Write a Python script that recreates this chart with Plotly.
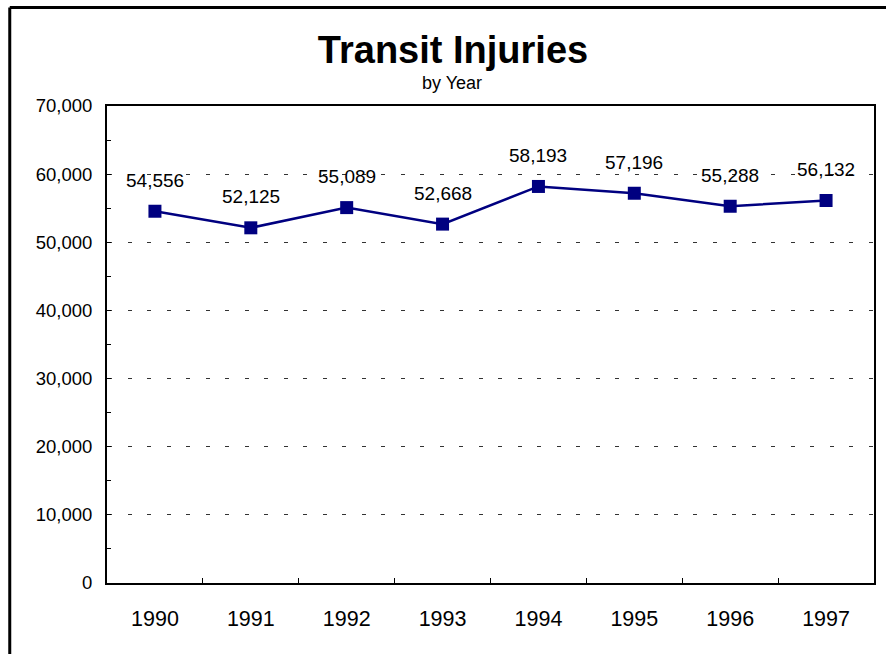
import plotly.graph_objects as go

years = ["1990", "1991", "1992", "1993", "1994", "1995", "1996", "1997"]
injuries = [54556, 52125, 55089, 52668, 58193, 57196, 55288, 56132]
y_ticks = [0, 10000, 20000, 30000, 40000, 50000, 60000, 70000]
y_tick_labels = ["0", "10,000", "20,000", "30,000", "40,000", "50,000", "60,000", "70,000"]

FONT = "Liberation Sans, Arial, sans-serif"
NAVY = "#000080"

fig = go.Figure()
fig.add_trace(go.Scatter(
    x=years, y=injuries, mode="lines+markers",
    line=dict(color=NAVY, width=2.5),
    marker=dict(symbol="square", size=13, color=NAVY),
    hoverinfo="x+y", showlegend=False,
))

# data labels (category index positions on the x axis)
for i, v in enumerate(injuries):
    fig.add_annotation(x=i, y=v, xref="x", yref="y", text=f"{v:,}", showarrow=False,
                       yshift=31, font=dict(family=FONT, size=19, color="black"))

# subtitle
fig.add_annotation(xref="paper", yref="paper", x=(453 - 107) / 769, y=(583 - 83) / 477,
                   text="by Year", showarrow=False, xanchor="center", yanchor="middle",
                   font=dict(family=FONT, size=18, color="black"))

# outer chart border (left and top)
bx = (9.5 - 107) / 769
by = (583 - 7.5) / 477
fig.add_shape(type="line", xref="paper", yref="paper", x0=bx, x1=bx, y0=-0.3, y1=by,
              line=dict(color="black", width=3))
fig.add_shape(type="line", xref="paper", yref="paper", x0=bx, x1=1.2, y0=by, y1=by,
              line=dict(color="black", width=3))

fig.update_layout(
    width=886, height=654,
    margin=dict(l=107, r=10, t=106, b=71),
    paper_bgcolor="white", plot_bgcolor="white",
    font=dict(family=FONT, color="black"),
    title=dict(text="<b>Transit Injuries</b>", xref="container", yref="container",
               x=453 / 886, y=1 - 50 / 654, xanchor="center", yanchor="middle",
               font=dict(family=FONT, size=38, color="black")),
)

fig.update_xaxes(
    type="category", range=[-0.5, 7.5],
    showline=True, linecolor="black", linewidth=2, mirror=True,
    ticks="inside", ticklen=5, tickwidth=1, tickcolor="black",
    tickson="boundaries", showgrid=False,
    tickfont=dict(family=FONT, size=21.5, color="black"),
    ticklabelstandoff=15,
)
fig.update_yaxes(
    range=[0, 70000], tickvals=y_ticks, ticktext=y_tick_labels,
    showline=True, linecolor="black", linewidth=2, mirror=True,
    ticks="inside", ticklen=4, tickwidth=1, tickcolor="black",
    minor=dict(ticks="inside", ticklen=4, dtick=5000, tickcolor="black", showgrid=False),
    showgrid=True, gridcolor="#333333", gridwidth=1, griddash="0px,1px,4px,14.5px",
    zeroline=False,
    tickfont=dict(family=FONT, size=18.5, color="black"),
    ticklabelstandoff=9,
)

fig.write_html("out.html", config={"displayModeBar": False},
               post_script="document.body.style.margin='0';document.body.style.overflow='hidden';")
